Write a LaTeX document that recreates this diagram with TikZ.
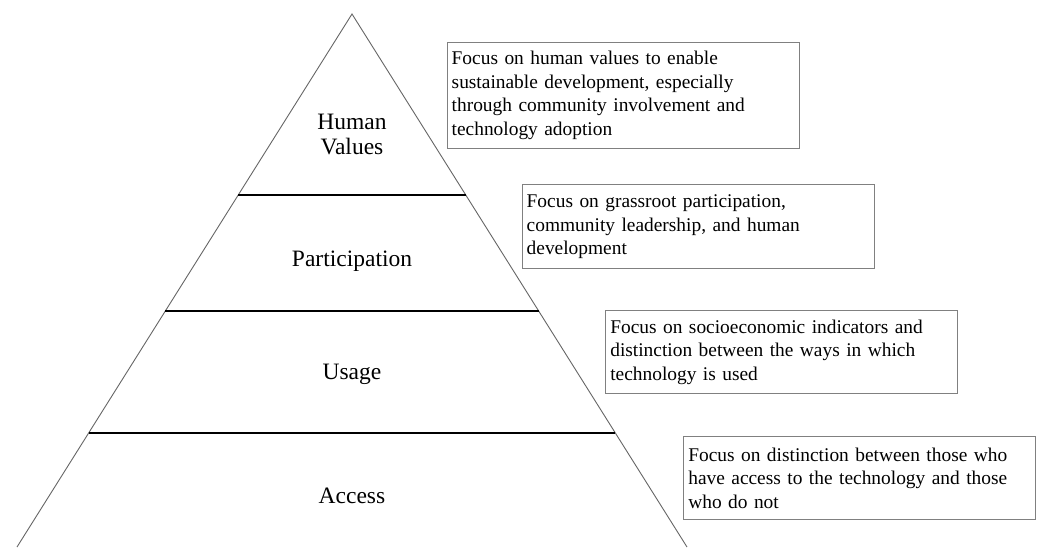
\documentclass[tikz,border=0pt]{standalone}
\usepackage{fontspec}
\setmainfont{Liberation Serif}
\begin{document}
\begin{tikzpicture}[x=1pt,y=-1pt,
  tri/.style={draw=black!60, line width=0.9pt},
  tier/.style={draw=black, line width=2pt},
  lvl/.style={font=\fontsize{23.5}{25}\selectfont, align=center, inner sep=0pt},
  descbox/.style={draw=black!50, line width=1pt, anchor=north west,
    minimum width=352pt, inner xsep=4.5pt, inner ysep=0pt, text width=343pt,
    align=left, font=\fontsize{19.4}{23.5}\selectfont}]
\useasboundingbox (0,0) rectangle (1038,547);
\fill[white] (0,0) rectangle (1038,547);
% pyramid
\coordinate (apex) at (352,14);
\coordinate (bl) at (17,547);
\coordinate (br) at (687,547);
\draw[tri] (bl) -- (apex) -- (br);
\coordinate (l1a) at (238.2,195); \coordinate (l1b) at (465.8,195);
\coordinate (l2a) at (165.3,311); \coordinate (l2b) at (538.7,311);
\coordinate (l3a) at (88.7,433);  \coordinate (l3b) at (615.3,433);
\draw[tier] (l1a) -- (l1b);
\draw[tier] (l2a) -- (l2b);
\draw[tier] (l3a) -- (l3b);
% level labels
\node[lvl] (hv) at (352,134.5) {Human\\Values};
\node[lvl, anchor=base] (part) at (352,266.7) {Participation};
\node[lvl, anchor=base] (usage) at (352,379.3) {Usage};
\node[lvl, anchor=base] (access) at (352,503.3) {Access};
% description boxes
\node[descbox, minimum height=106pt] (d1) at (446.7,41.7)
  {Focus on human values to enable\\sustainable development, especially\\through community involvement and\\technology adoption};
\node[descbox, minimum height=84.3pt] (d2) at (521.7,184)
  {Focus on grassroot participation,\\community leadership, and human\\development};
\node[descbox, minimum height=83.3pt] (d3) at (605.3,310)
  {Focus on socioeconomic indicators and\\distinction between the ways in which\\technology is used};
\node[descbox, minimum height=83.6pt] (d4) at (683.3,435.7)
  {Focus on distinction between those who\\have access to the technology and those\\who do not};
\end{tikzpicture}
\end{document}
